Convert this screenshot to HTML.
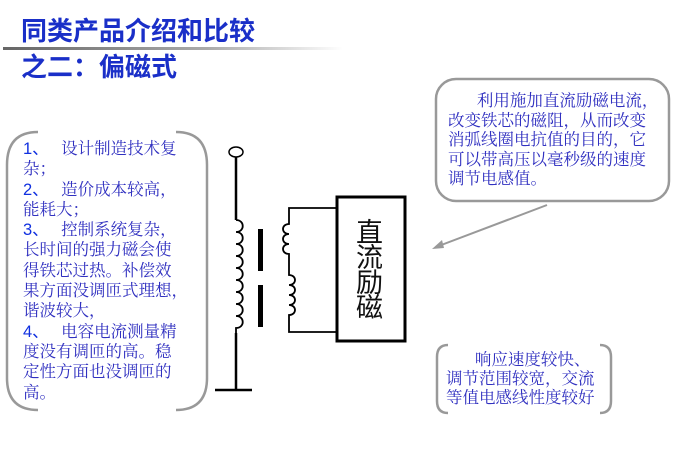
<!DOCTYPE html>
<html><head><meta charset="utf-8"><style>
body{margin:0;width:680px;height:472px;background:#fff;position:relative;overflow:hidden;font-family:"Liberation Sans","Noto Sans CJK SC",sans-serif}
.t{position:absolute;color:#1a2fc8;font-size:26px;font-weight:bold;line-height:30px;white-space:nowrap}
.txt{position:absolute;color:#3030c0;font-size:16.5px;white-space:nowrap;font-family:"Liberation Serif","Noto Serif CJK SC",serif}
.b{color:#1030e0;font-family:"Liberation Sans",sans-serif}
</style></head><body>
<div class="t" style="left:21px;top:16px">同类产品介绍和比较</div>
<div style="position:absolute;left:3px;top:47px;width:340px;height:3px;background:linear-gradient(to right,#666,#aaa 60%,#fff)"></div>
<div class="t" style="left:21px;top:52px">之二：偏磁式</div>
<svg width="680" height="472" style="position:absolute;left:0;top:0" fill="none">
 <path d="M38 132 Q7 132 7 165 L7 378 Q7 410 38 410" stroke="#999" stroke-width="2.5"/>
 <path d="M176 132 Q207 132 207 165 L207 378 Q207 410 176 410" stroke="#999" stroke-width="2.5"/>
 <rect x="436" y="79" width="233" height="122" rx="20" stroke="#999" stroke-width="2.5"/>
 <path d="M448 345 Q437 345 437 357 L437 401 Q437 413 448 413" stroke="#999" stroke-width="2.5"/>
 <path d="M600 345 Q611 345 611 357 L611 401 Q611 413 600 413" stroke="#999" stroke-width="2.5"/>
 <line x1="547" y1="205" x2="436" y2="247" stroke="#999" stroke-width="2"/>
 <path d="M432 249 L442 240 L444 248 Z" fill="#999"/>
 <ellipse cx="236" cy="152" rx="7" ry="5" stroke="#000" stroke-width="1.5"/>
 <path d="M236 157 V220 M236 333 V390 M215 390 H252" stroke="#000" stroke-width="2.5"/>
 <path d="M236 220 c9 0 9 12 0 12 c9 0 9 12 0 12 c9 0 9 12 0 12 c9 0 9 12 0 12 c9 0 9 12 0 12 c9 0 9 12 0 12 c9 0 9 12 0 12 c9 0 9 12 0 12 c9 0 9 12 0 12 V333" stroke="#000" stroke-width="1.8"/>
 <rect x="258" y="229" width="5" height="42" fill="#000"/>
 <rect x="258" y="285" width="5" height="42" fill="#000"/>
 <path d="M336 208 H289 V224 c-8 0 -8 10 0 10 c-8 0 -8 10 0 10 c-8 0 -8 10 0 10 V275 c8 0 8 10 0 10 c8 0 8 10 0 10 c8 0 8 10 0 10 c8 0 8 10 0 10 V332 H336" stroke="#000" stroke-width="1.8"/>
 <rect x="337" y="197" width="68" height="144" stroke="#000" stroke-width="3"/>
</svg>
<div style="position:absolute;left:356px;top:218px;width:32px;font-size:27px;line-height:25px;color:#111;font-family:'Noto Sans CJK SC',sans-serif">直<br>流<br>励<br>磁</div>
<div class="txt" style="left:23px;top:139px;line-height:20.3px"><span class="b">1、</span>&nbsp;&nbsp; 设计制造技术复<br>杂；<br><span class="b">2、</span>&nbsp;&nbsp; 造价成本较高，<br>能耗大；<br><span class="b">3、</span>&nbsp;&nbsp; 控制系统复杂，<br>长时间的强力磁会使<br>得铁芯过热。补偿效<br>果方面没调匝式理想，<br>谐波较大，<br><span class="b">4、</span>&nbsp;&nbsp; 电容电流测量精<br>度没有调匝的高。稳<br>定性方面也没调匝的<br>高。</div>
<div class="txt" style="left:448px;top:91px;line-height:19.5px">&nbsp;&nbsp;&nbsp;&nbsp;&nbsp;&nbsp;&nbsp;利用施加直流励磁电流，<br>改变铁芯的磁阻，从而改变<br>消弧线圈电抗值的目的，它<br>可以带高压以毫秒级的速度<br>调节电感值。</div>
<div class="txt" style="left:446px;top:350px;line-height:19px">&nbsp;&nbsp;&nbsp;&nbsp;&nbsp;&nbsp;&nbsp;响应速度较快、<br>调节范围较宽，交流<br>等值电感线性度较好</div>
</body></html>
